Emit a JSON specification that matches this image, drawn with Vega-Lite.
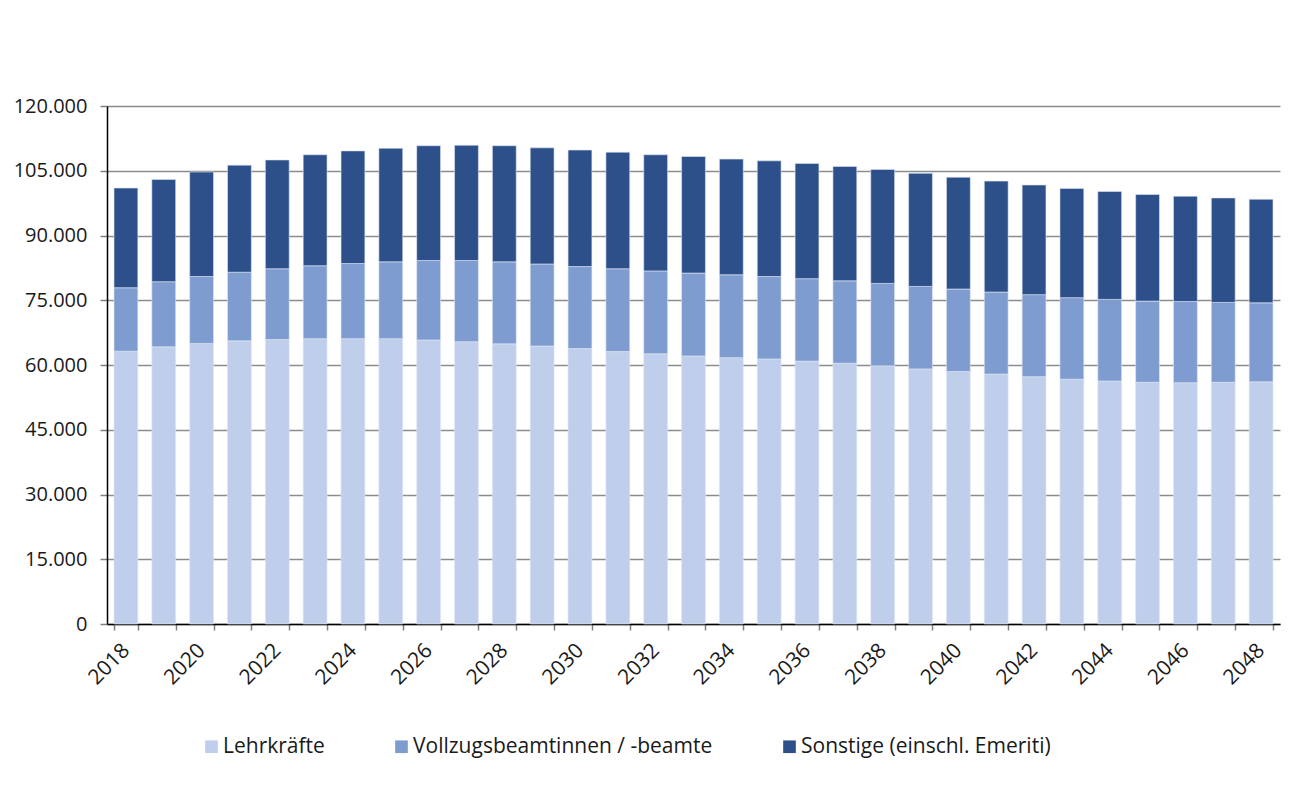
{
  "$schema": "https://vega.github.io/schema/vega-lite/v6.json",
  "autosize": {"type": "none"},
  "width": 1173,
  "height": 518,
  "padding": {"left": 107, "top": 106, "right": 11, "bottom": 174},
  "background": "white",
  "config": {
    "font": "Open Sans",
    "view": {"stroke": null}
  },
  "data": {
    "values": [
      {"year": 2018, "L": 63200, "V": 14700, "S": 23100},
      {"year": 2019, "L": 64200, "V": 15100, "S": 23700},
      {"year": 2020, "L": 65000, "V": 15500, "S": 24200},
      {"year": 2021, "L": 65600, "V": 15900, "S": 24800},
      {"year": 2022, "L": 65900, "V": 16400, "S": 25200},
      {"year": 2023, "L": 66100, "V": 16900, "S": 25700},
      {"year": 2024, "L": 66100, "V": 17400, "S": 26100},
      {"year": 2025, "L": 66100, "V": 17800, "S": 26300},
      {"year": 2026, "L": 65800, "V": 18400, "S": 26600},
      {"year": 2027, "L": 65400, "V": 18800, "S": 26700},
      {"year": 2028, "L": 64900, "V": 19000, "S": 26900},
      {"year": 2029, "L": 64400, "V": 19000, "S": 26900},
      {"year": 2030, "L": 63800, "V": 19000, "S": 27000},
      {"year": 2031, "L": 63100, "V": 19200, "S": 27000},
      {"year": 2032, "L": 62600, "V": 19200, "S": 26900},
      {"year": 2033, "L": 62100, "V": 19200, "S": 27000},
      {"year": 2034, "L": 61700, "V": 19200, "S": 26800},
      {"year": 2035, "L": 61400, "V": 19100, "S": 26800},
      {"year": 2036, "L": 60900, "V": 19100, "S": 26700},
      {"year": 2037, "L": 60400, "V": 19100, "S": 26500},
      {"year": 2038, "L": 59800, "V": 19100, "S": 26400},
      {"year": 2039, "L": 59100, "V": 19100, "S": 26200},
      {"year": 2040, "L": 58500, "V": 19100, "S": 25900},
      {"year": 2041, "L": 57900, "V": 19000, "S": 25700},
      {"year": 2042, "L": 57300, "V": 19000, "S": 25400},
      {"year": 2043, "L": 56700, "V": 18900, "S": 25300},
      {"year": 2044, "L": 56300, "V": 18900, "S": 25000},
      {"year": 2045, "L": 56000, "V": 18800, "S": 24700},
      {"year": 2046, "L": 55900, "V": 18800, "S": 24400},
      {"year": 2047, "L": 56000, "V": 18500, "S": 24200},
      {"year": 2048, "L": 56100, "V": 18300, "S": 24000}
    ]
  },
  "transform": [
    {"fold": ["L", "V", "S"], "as": ["key", "wert"]},
    {"calculate": "datum.key == 'L' ? 'Lehrkräfte' : datum.key == 'V' ? 'Vollzugsbeamtinnen / -beamte' : 'Sonstige (einschl. Emeriti)'", "as": "gruppe"},
    {"calculate": "datum.key == 'L' ? 0 : datum.key == 'V' ? 1 : 2", "as": "rang"}
  ],
  "mark": {"type": "bar", "stroke": "#dfe6f3", "strokeWidth": 0.6},
  "encoding": {
    "x": {
      "field": "year",
      "type": "ordinal",
      "title": null,
      "scale": {"paddingInner": 0.37, "paddingOuter": 0.185},
      "axis": {
        "tickBand": "extent",
        "labelExpr": "datum.value % 2 == 0 ? datum.label : ''",
        "labelOverlap": false,
        "labelAngle": -45,
        "labelAlign": "right",
        "labelBaseline": "middle",
        "labelFontSize": 21,
        "labelColor": "#1a1a1a",
        "labelPadding": 17,
        "domainColor": "#000000",
        "domainWidth": 1.5,
        "tickColor": "#808080",
        "tickSize": 6,
        "tickWidth": 1.5,
        "grid": false
      }
    },
    "y": {
      "field": "wert",
      "type": "quantitative",
      "stack": "zero",
      "title": null,
      "scale": {"domain": [0, 120000], "nice": false},
      "axis": {
        "values": [0, 15000, 30000, 45000, 60000, 75000, 90000, 105000, 120000],
        "labelExpr": "replace(format(datum.value, ','), ',', '.')",
        "labelFontSize": 20,
        "labelColor": "#1a1a1a",
        "labelPadding": 13,
        "domainColor": "#000000",
        "domainWidth": 1.5,
        "tickColor": "#808080",
        "tickSize": 7,
        "tickWidth": 1.5,
        "grid": true,
        "gridColor": "#8c8c8c",
        "gridWidth": 1.5
      }
    },
    "color": {
      "field": "gruppe",
      "type": "nominal",
      "title": null,
      "scale": {
        "domain": ["Lehrkräfte", "Vollzugsbeamtinnen / -beamte", "Sonstige (einschl. Emeriti)"],
        "range": ["#bfcfeb", "#7e9cd0", "#2d4f8a"]
      },
      "legend": {
        "orient": "none",
        "direction": "horizontal",
        "legendX": 94,
        "legendY": 630,
        "symbolType": "square",
        "symbolSize": 160,
        "symbolStrokeWidth": 0,
        "labelFontSize": 21,
        "labelColor": "#1a1a1a",
        "labelOffset": 1,
        "columnPadding": 66,
        "labelLimit": 450
      }
    },
    "order": {"field": "rang", "type": "quantitative", "sort": "ascending"}
  }
}
